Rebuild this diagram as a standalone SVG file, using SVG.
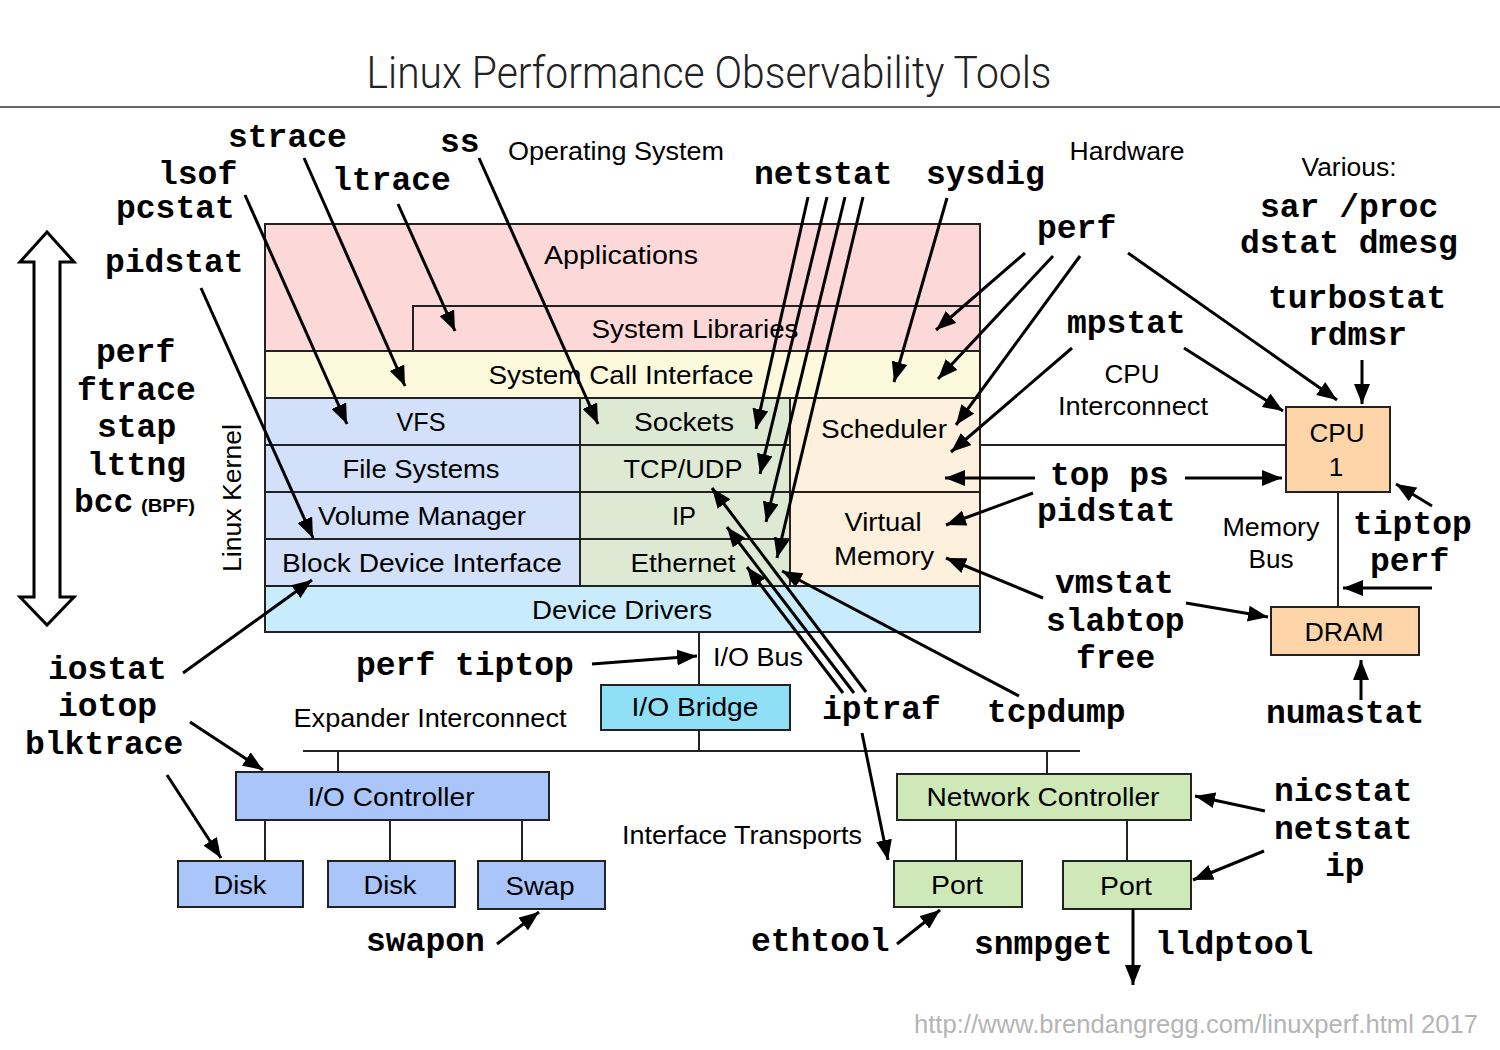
<svg xmlns="http://www.w3.org/2000/svg" width="1500" height="1050" viewBox="0 0 1500 1050">
<defs>
<marker id="ah" markerUnits="userSpaceOnUse" markerWidth="22" markerHeight="16" refX="20" refY="8" orient="auto">
<path d="M0,0 L20,8 L0,16 z" fill="#000"/>
</marker>
<style>
.l{font-family:"Liberation Sans",Arial,sans-serif;font-size:26px;text-anchor:middle;fill:#000}
.m{font-family:"Liberation Mono","Courier New",monospace;font-size:33px;font-weight:bold;fill:#000}
.b{stroke:#222;stroke-width:2}
.ln{stroke:#222;stroke-width:2;fill:none}
.a{stroke:#000;stroke-width:3;fill:none;marker-end:url(#ah)}
</style>
</defs>
<rect width="1500" height="1050" fill="#fff"/>
<text x="709" y="88" font-family="Roboto,'Liberation Sans',sans-serif" font-weight="300" font-size="44" text-anchor="middle" textLength="685" lengthAdjust="spacingAndGlyphs" fill="#222">Linux Performance Observability Tools</text>
<line x1="0" y1="107" x2="1500" y2="107" stroke="#333" stroke-width="1.5"/>

<g id="left-arrow">
<path d="M47,232 L74,262 L60,262 L60,597 L74,597 L47,625 L20,597 L34,597 L34,262 L20,262 Z" fill="#fff" stroke="#000" stroke-width="3" stroke-linejoin="miter"/>
</g>

<g id="section-labels">
<text class="l" x="616" y="160" textLength="216" lengthAdjust="spacingAndGlyphs">Operating System</text>
<text class="l" x="1127" y="160" textLength="115" lengthAdjust="spacingAndGlyphs">Hardware</text>
<text class="l" x="1349" y="176" textLength="95" lengthAdjust="spacingAndGlyphs">Various:</text>
<text class="l" x="0" y="0" transform="translate(241,498) rotate(-90)" textLength="148" lengthAdjust="spacingAndGlyphs">Linux Kernel</text>
<text class="l" x="1132" y="383" textLength="55" lengthAdjust="spacingAndGlyphs">CPU</text>
<text class="l" x="1133" y="415" textLength="150" lengthAdjust="spacingAndGlyphs">Interconnect</text>
<text class="l" x="1271" y="536" textLength="97" lengthAdjust="spacingAndGlyphs">Memory</text>
<text class="l" x="1271" y="568" textLength="45" lengthAdjust="spacingAndGlyphs">Bus</text>
<text class="l" x="758" y="666" textLength="90" lengthAdjust="spacingAndGlyphs">I/O Bus</text>
<text class="l" x="430" y="727" textLength="273" lengthAdjust="spacingAndGlyphs">Expander Interconnect</text>
<text class="l" x="742" y="844" textLength="240" lengthAdjust="spacingAndGlyphs">Interface Transports</text>
<text class="l" x="1196" y="1033" textLength="564" lengthAdjust="spacingAndGlyphs" style="fill:#b5b5b5">http://www.brendangregg.com/linuxperf.html 2017</text>
</g>

<g id="applications">
<rect class="b" x="265" y="224" width="715" height="127" fill="#fdd8d8"/>
<text class="l" x="621" y="264" textLength="154" lengthAdjust="spacingAndGlyphs">Applications</text>
</g>
<g id="system-libraries">
<path class="ln" d="M413,351 L413,306 L980,306"/>
<text class="l" x="695" y="338" textLength="207" lengthAdjust="spacingAndGlyphs">System Libraries</text>
</g>
<g id="system-call-interface">
<rect class="b" x="265" y="351" width="715" height="47" fill="#fdf9dc"/>
<text class="l" x="621" y="384" textLength="265" lengthAdjust="spacingAndGlyphs">System Call Interface</text>
</g>
<g id="vfs">
<rect class="b" x="265" y="398" width="315" height="47" fill="#d2e0fa"/>
<text class="l" x="421" y="431" textLength="49" lengthAdjust="spacingAndGlyphs">VFS</text>
</g>
<g id="file-systems">
<rect class="b" x="265" y="445" width="315" height="47" fill="#d2e0fa"/>
<text class="l" x="421" y="478" textLength="157" lengthAdjust="spacingAndGlyphs">File Systems</text>
</g>
<g id="volume-manager">
<rect class="b" x="265" y="492" width="315" height="47" fill="#d2e0fa"/>
<text class="l" x="422" y="525" textLength="208" lengthAdjust="spacingAndGlyphs">Volume Manager</text>
</g>
<g id="block-device-interface">
<rect class="b" x="265" y="539" width="315" height="47" fill="#d2e0fa"/>
<text class="l" x="422" y="572" textLength="280" lengthAdjust="spacingAndGlyphs">Block Device Interface</text>
</g>
<g id="sockets">
<rect class="b" x="580" y="398" width="210" height="47" fill="#dee9d4"/>
<text class="l" x="684" y="431" textLength="100" lengthAdjust="spacingAndGlyphs">Sockets</text>
</g>
<g id="tcp-udp">
<rect class="b" x="580" y="445" width="210" height="47" fill="#dee9d4"/>
<text class="l" x="683" y="478" textLength="119" lengthAdjust="spacingAndGlyphs">TCP/UDP</text>
</g>
<g id="ip">
<rect class="b" x="580" y="492" width="210" height="47" fill="#dee9d4"/>
<text class="l" x="684" y="525" textLength="24" lengthAdjust="spacingAndGlyphs">IP</text>
</g>
<g id="ethernet">
<rect class="b" x="580" y="539" width="210" height="47" fill="#dee9d4"/>
<text class="l" x="683" y="572" textLength="105" lengthAdjust="spacingAndGlyphs">Ethernet</text>
</g>
<g id="scheduler">
<rect class="b" x="790" y="398" width="190" height="94" fill="#fdf0dc"/>
<text class="l" x="884" y="438" textLength="126" lengthAdjust="spacingAndGlyphs">Scheduler</text>
</g>
<g id="virtual-memory">
<rect class="b" x="790" y="492" width="190" height="94" fill="#fdf0dc"/>
<text class="l" x="883" y="531" textLength="77" lengthAdjust="spacingAndGlyphs">Virtual</text>
<text class="l" x="884" y="565" textLength="100" lengthAdjust="spacingAndGlyphs">Memory</text>
</g>
<g id="device-drivers">
<rect class="b" x="265" y="586" width="715" height="46" fill="#c8ecfb"/>
<text class="l" x="622" y="619" textLength="180" lengthAdjust="spacingAndGlyphs">Device Drivers</text>
</g>

<g id="cpu">
<rect class="b" x="1286" y="407" width="104" height="85" fill="#fdd5a8"/>
<text class="l" x="1337" y="442" textLength="55" lengthAdjust="spacingAndGlyphs">CPU</text>
<text class="l" x="1336" y="476">1</text>
</g>
<g id="dram">
<rect class="b" x="1271" y="607" width="148" height="48" fill="#fdd5a8"/>
<text class="l" x="1344" y="641" textLength="79" lengthAdjust="spacingAndGlyphs">DRAM</text>
</g>
<g id="io-bridge">
<rect class="b" x="601" y="685" width="189" height="45" fill="#8fdff6"/>
<text class="l" x="695" y="716" textLength="127" lengthAdjust="spacingAndGlyphs">I/O Bridge</text>
</g>
<g id="io-controller">
<rect class="b" x="236" y="772" width="313" height="48" fill="#a9c5f9"/>
<text class="l" x="391" y="806" textLength="167" lengthAdjust="spacingAndGlyphs">I/O Controller</text>
</g>
<g id="disk1">
<rect class="b" x="178" y="861" width="125" height="46" fill="#a9c5f9"/>
<text class="l" x="240" y="894" textLength="53" lengthAdjust="spacingAndGlyphs">Disk</text>
</g>
<g id="disk2">
<rect class="b" x="328" y="861" width="127" height="46" fill="#a9c5f9"/>
<text class="l" x="390" y="894" textLength="53" lengthAdjust="spacingAndGlyphs">Disk</text>
</g>
<g id="swap">
<rect class="b" x="478" y="861" width="127" height="48" fill="#a9c5f9"/>
<text class="l" x="540" y="895" textLength="69" lengthAdjust="spacingAndGlyphs">Swap</text>
</g>
<g id="network-controller">
<rect class="b" x="897" y="774" width="294" height="46" fill="#cfe8b8"/>
<text class="l" x="1043" y="806" textLength="233" lengthAdjust="spacingAndGlyphs">Network Controller</text>
</g>
<g id="port1">
<rect class="b" x="894" y="861" width="128" height="46" fill="#cfe8b8"/>
<text class="l" x="957" y="894" textLength="52" lengthAdjust="spacingAndGlyphs">Port</text>
</g>
<g id="port2">
<rect class="b" x="1063" y="861" width="128" height="48" fill="#cfe8b8"/>
<text class="l" x="1126" y="895" textLength="52" lengthAdjust="spacingAndGlyphs">Port</text>
</g>

<g id="tool-labels">
<text class="m" x="228" y="147">strace</text>
<text class="m" x="440" y="152">ss</text>
<text class="m" x="158" y="184">lsof</text>
<text class="m" x="116" y="218">pcstat</text>
<text class="m" x="332" y="190">ltrace</text>
<text class="m" x="105" y="272">pidstat</text>
<text class="m" x="96" y="362">perf</text>
<text class="m" x="77" y="400">ftrace</text>
<text class="m" x="97" y="437">stap</text>
<text class="m" x="87" y="475">lttng</text>
<text class="m" x="74" y="512">bcc</text>
<text x="141" y="512" font-family="'Liberation Sans',Arial,sans-serif" font-weight="bold" font-size="19" textLength="54" lengthAdjust="spacingAndGlyphs">(BPF)</text>
<text class="m" x="754" y="184">netstat</text>
<text class="m" x="926" y="184">sysdig</text>
<text class="m" x="1037" y="238">perf</text>
<text class="m" x="1260" y="217">sar /proc</text>
<text class="m" x="1240" y="253">dstat dmesg</text>
<text class="m" x="1268" y="308">turbostat</text>
<text class="m" x="1308" y="345">rdmsr</text>
<text class="m" x="1067" y="333">mpstat</text>
<text class="m" x="1050" y="485">top ps</text>
<text class="m" x="1037" y="521">pidstat</text>
<text class="m" x="1353" y="534">tiptop</text>
<text class="m" x="1370" y="571">perf</text>
<text class="m" x="1055" y="593">vmstat</text>
<text class="m" x="1046" y="631">slabtop</text>
<text class="m" x="1076" y="668">free</text>
<text class="m" x="1266" y="723">numastat</text>
<text class="m" x="822" y="719">iptraf</text>
<text class="m" x="987" y="722">tcpdump</text>
<text class="m" x="356" y="675">perf tiptop</text>
<text class="m" x="48" y="679">iostat</text>
<text class="m" x="58" y="716">iotop</text>
<text class="m" x="25" y="754">blktrace</text>
<text class="m" x="366" y="951">swapon</text>
<text class="m" x="751" y="951">ethtool</text>
<text class="m" x="974" y="954">snmpget</text>
<text class="m" x="1155" y="954">lldptool</text>
<text class="m" x="1274" y="801">nicstat</text>
<text class="m" x="1274" y="839">netstat</text>
<text class="m" x="1325" y="876">ip</text>
</g>

<g id="connectors">
<line class="ln" x1="980" y1="445" x2="1286" y2="445"/>
<line class="ln" x1="1338" y1="492" x2="1338" y2="607"/>
<line class="ln" x1="699" y1="632" x2="699" y2="685"/>
<line class="ln" x1="699" y1="730" x2="699" y2="751"/>
<line class="ln" x1="303" y1="751" x2="1080" y2="751"/>
<line class="ln" x1="338" y1="751" x2="338" y2="772"/>
<line class="ln" x1="1047" y1="751" x2="1047" y2="774"/>
<line class="ln" x1="265" y1="820" x2="265" y2="861"/>
<line class="ln" x1="390" y1="820" x2="390" y2="861"/>
<line class="ln" x1="522" y1="820" x2="522" y2="861"/>
<line class="ln" x1="956" y1="820" x2="956" y2="861"/>
<line class="ln" x1="1127" y1="820" x2="1127" y2="861"/>

<line class="a" x1="304" y1="158" x2="405" y2="386"/>
<line class="a" x1="245" y1="195" x2="347" y2="424"/>
<line class="a" x1="398" y1="204" x2="455" y2="331"/>
<line class="a" x1="479" y1="158" x2="598" y2="424"/>
<line class="a" x1="201" y1="288" x2="313" y2="538"/>
<line class="a" x1="808" y1="197" x2="756" y2="429"/>
<line class="a" x1="827" y1="197" x2="760" y2="474"/>
<line class="a" x1="845" y1="197" x2="766" y2="522"/>
<line class="a" x1="863" y1="197" x2="777" y2="558"/>
<line class="a" x1="947" y1="198" x2="894" y2="382"/>
<line class="a" x1="1025" y1="253" x2="936" y2="330"/>
<line class="a" x1="1053" y1="256" x2="938" y2="379"/>
<line class="a" x1="1080" y1="256" x2="956" y2="425"/>
<line class="a" x1="1128" y1="253" x2="1337" y2="400"/>
<line class="a" x1="1072" y1="348" x2="951" y2="452"/>
<line class="a" x1="1184" y1="348" x2="1283" y2="411"/>
<line class="a" x1="1362" y1="360" x2="1362" y2="404"/>
<line class="a" x1="1035" y1="478" x2="945" y2="478"/>
<line class="a" x1="1185" y1="478" x2="1282" y2="478"/>
<line class="a" x1="1033" y1="493" x2="946" y2="525"/>
<line class="a" x1="1043" y1="598" x2="946" y2="558"/>
<line class="a" x1="1186" y1="603" x2="1268" y2="617"/>
<line class="a" x1="1432" y1="506" x2="1396" y2="484"/>
<line class="a" x1="1432" y1="588" x2="1343" y2="588"/>
<line class="a" x1="1361" y1="700" x2="1361" y2="660"/>
<line class="a" x1="866" y1="692" x2="712" y2="488"/>
<line class="a" x1="854" y1="693" x2="727" y2="527"/>
<line class="a" x1="843" y1="693" x2="747" y2="567"/>
<line class="a" x1="862" y1="733" x2="888" y2="860"/>
<line class="a" x1="1019" y1="696" x2="782" y2="571"/>
<line class="a" x1="592" y1="664" x2="697" y2="656"/>
<line class="a" x1="183" y1="673" x2="312" y2="580"/>
<line class="a" x1="190" y1="722" x2="263" y2="770"/>
<line class="a" x1="167" y1="775" x2="221" y2="858"/>
<line class="a" x1="497" y1="944" x2="539" y2="912"/>
<line class="a" x1="897" y1="944" x2="940" y2="910"/>
<line class="a" x1="1265" y1="811" x2="1195" y2="796"/>
<line class="a" x1="1264" y1="851" x2="1193" y2="880"/>
<line class="a" x1="1133" y1="909" x2="1133" y2="985"/>
</g>
</svg>
